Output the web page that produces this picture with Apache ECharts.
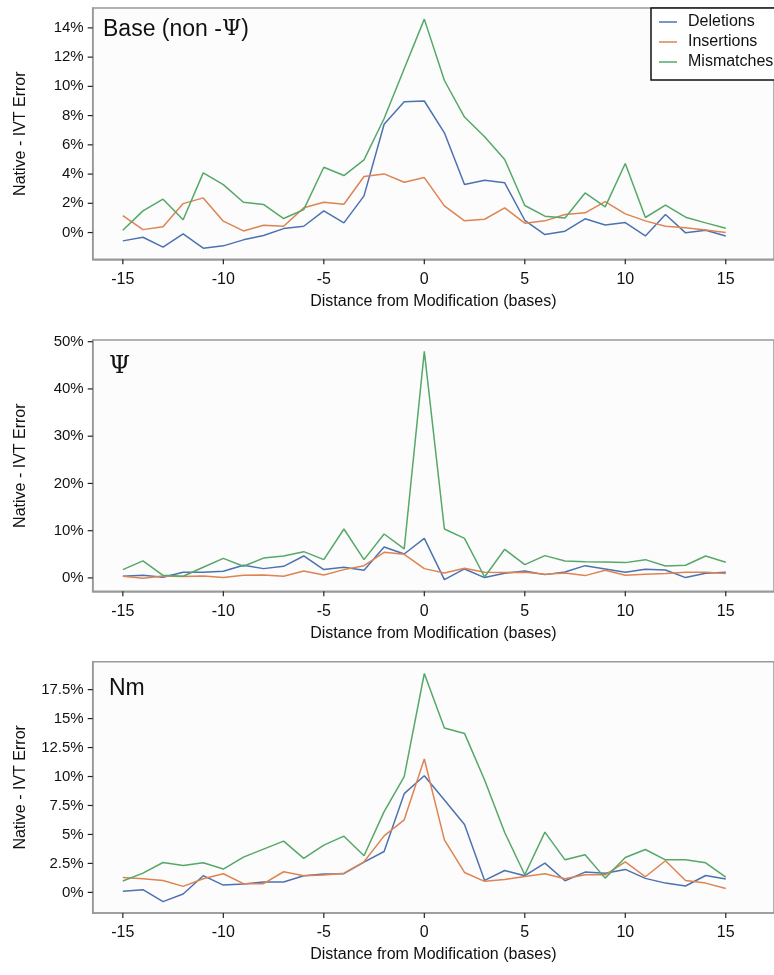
<!DOCTYPE html>
<html><head><meta charset="utf-8">
<script src="https://cdn.jsdelivr.net/npm/echarts@6/dist/echarts.min.js"></script>
<style>html,body{margin:0;padding:0;background:#fff}#c{width:774px;height:975px}</style>
</head><body><div id="c"></div>
<script>
const positions = [-15,-14,-13,-12,-11,-10,-9,-8,-7,-6,-5,-4,-3,-2,-1,0,1,2,3,4,5,6,7,8,9,10,11,12,13,14,15];
const xTicks = [-15,-10,-5,0,5,10,15];
const seriesNames = ['Deletions','Insertions','Mismatches'];

const baseDel = [-0.57,-0.32,-1.0,-0.09,-1.07,-0.91,-0.5,-0.2,0.27,0.43,1.48,0.66,2.51,7.41,8.94,9.0,6.82,3.28,3.58,3.4,0.84,-0.14,0.09,0.94,0.52,0.68,-0.23,1.23,-0.02,0.16,-0.23];
const baseIns = [1.16,0.2,0.39,1.98,2.37,0.78,0.11,0.5,0.43,1.69,2.07,1.94,3.83,4.01,3.44,3.76,1.82,0.8,0.91,1.69,0.64,0.8,1.23,1.35,2.12,1.28,0.8,0.43,0.32,0.18,0.0];
const baseMis = [0.16,1.48,2.28,0.87,4.08,3.28,2.07,1.92,0.96,1.57,4.47,3.9,4.97,7.8,11.2,14.6,10.4,7.9,6.55,5.0,1.85,1.12,1.0,2.71,1.76,4.72,1.03,1.87,1.05,0.66,0.3];

const psiDel = [0.35,0.56,0.14,1.2,1.2,1.41,2.68,1.97,2.46,4.65,1.76,2.25,1.62,6.55,5.07,8.38,-0.35,1.9,0.07,0.99,1.48,0.7,1.27,2.6,1.9,1.2,1.83,1.69,0.07,0.99,1.2];
const psiIns = [0.35,-0.07,0.42,0.28,0.42,0.07,0.56,0.63,0.35,1.48,0.63,1.76,2.6,5.42,5.0,1.97,1.06,2.04,1.2,1.13,1.2,0.77,1.06,0.49,1.62,0.56,0.77,0.92,1.2,1.2,0.92];
const psiMis = [1.76,3.6,0.56,0.35,2.25,4.15,2.46,4.2,4.65,5.56,3.87,10.35,3.87,9.3,6.13,47.96,10.35,8.38,0.2,6.06,2.82,4.72,3.6,3.45,3.38,3.24,3.87,2.54,2.68,4.65,3.31];

const nmDel = [0.09,0.23,-0.8,-0.14,1.44,0.63,0.72,0.89,0.89,1.44,1.58,1.61,2.61,3.53,8.52,10.07,7.98,5.86,1.03,1.89,1.44,2.53,1.0,1.75,1.66,1.98,1.21,0.8,0.55,1.46,1.15];
const nmIns = [1.29,1.18,1.03,0.52,1.18,1.61,0.75,0.75,1.78,1.44,1.49,1.66,2.64,4.88,6.26,11.51,4.53,1.72,0.95,1.12,1.38,1.61,1.18,1.52,1.52,2.64,1.35,2.73,1.03,0.8,0.34];
const nmMis = [0.98,1.66,2.58,2.32,2.55,2.01,3.04,3.73,4.42,2.93,4.08,4.85,3.16,6.97,9.99,18.89,14.18,13.72,9.7,5.17,1.52,5.2,2.81,3.24,1.23,3.01,3.7,2.81,2.81,2.55,1.32];

const yTicksBase = [0,2,4,6,8,10,12,14];
const yTicksPsi = [0,10,20,30,40,50];
const yTicksNm = [0,2.5,5,7.5,10,12.5,15,17.5];

const colors = ['#4C72B0','#DD8452','#55A868'];
const FONT = 'Liberation Sans';
const X_MIN = -16.5, X_MAX = 17.4;

const panels = [
  {top: 8, yMin: -1.83, yMax: 15.36, ticks: yTicksBase, data: [baseDel, baseIns, baseMis]},
  {top: 340, yMin: -2.83, yMax: 50.36, ticks: yTicksPsi, data: [psiDel, psiIns, psiMis]},
  {top: 661.7, yMin: -1.78, yMax: 19.91, ticks: yTicksNm, data: [nmDel, nmIns, nmMis]}
];

const TICK_LEN = 5;

const grid = [], xAxis = [], yAxis = [], series = [];
panels.forEach((p, i) => {
  grid.push({left: 92.7, right: -26, top: p.top, height: 251.3, show: true,
    backgroundColor: '#fcfcfc', borderColor: '#999', borderWidth: 1.5});
  xAxis.push({type: 'value', gridIndex: i, min: X_MIN, max: X_MAX,
    name: 'Distance from Modification (bases)', nameLocation: 'middle', nameGap: 34,
    nameTextStyle: {fontFamily: FONT, fontSize: 16, color: '#111'},
    axisLine: {show: true, onZero: false, lineStyle: {color: '#999', width: 1.5}},
    axisTick: {show: false},
    axisLabel: {customValues: xTicks, margin: 12, fontFamily: FONT, fontSize: 16, color: '#111'},
    splitLine: {show: false}});
  yAxis.push({type: 'value', gridIndex: i, min: p.yMin, max: p.yMax,
    name: 'Native - IVT Error', nameLocation: 'middle', nameGap: 64,
    nameTextStyle: {fontFamily: FONT, fontSize: 16, color: '#111'},
    axisLine: {show: true, onZero: false, lineStyle: {color: '#999', width: 1.5}},
    axisTick: {show: false},
    axisLabel: {customValues: p.ticks, margin: 9, fontFamily: FONT, fontSize: 15, color: '#111',
      formatter: v => v + '%'},
    splitLine: {show: false}});
  seriesNames.forEach((name, k) => {
    series.push({type: 'line', name: name, xAxisIndex: i, yAxisIndex: i,
      data: positions.map((x, j) => [x, p.data[k][j]]),
      symbol: 'none', lineStyle: {width: 1.5, color: colors[k]}, itemStyle: {color: colors[k]},
      animation: false, z: 2 + k});
  });
});

const chart = echarts.init(document.getElementById('c'), null, {renderer: 'canvas'});
chart.setOption({
  animation: false,
  grid, xAxis, yAxis, series,
  title: [
    {text: '{a|Base (non -}{p|Ψ}{a|)}', left: 103, top: 18, padding: 0,
      textStyle: {fontWeight: 'normal', rich: {a: {fontFamily: FONT, fontSize: 23, fontWeight: 'normal', color: '#111'}, p: {fontFamily: 'DejaVu Serif', fontSize: 22, fontWeight: 'normal', color: '#111'}}}},
    {text: 'Ψ', left: 109, top: 355, padding: 0,
      textStyle: {fontFamily: 'DejaVu Serif', fontSize: 24, fontWeight: 'normal', color: '#111'}},
    {text: 'Nm', left: 109, top: 677, padding: 0,
      textStyle: {fontFamily: FONT, fontSize: 23, fontWeight: 'normal', color: '#111'}}
  ],
  legend: {data: seriesNames, orient: 'vertical', left: 651, top: 8,
    padding: [6, 20, 10, 8], itemGap: 4, itemWidth: 18, itemHeight: 1.5, icon: 'rect',
    backgroundColor: '#fff', borderColor: '#111', borderWidth: 1.5, borderRadius: 0,
    textStyle: {fontFamily: FONT, fontSize: 16, color: '#111', padding: [0, 0, 0, 6]}}
});

// tick marks positioned through the axes' own scales (convertToPixel)
const tickEls = [];
panels.forEach((p, i) => {
  p.ticks.forEach(v => {
    const pt = chart.convertToPixel({gridIndex: i}, [X_MIN, v]);
    tickEls.push({type: 'line', silent: true, z: 100,
      shape: {x1: pt[0] - TICK_LEN, y1: pt[1], x2: pt[0], y2: pt[1]},
      style: {stroke: '#222', lineWidth: 1.2}});
  });
  xTicks.forEach(v => {
    const pt = chart.convertToPixel({gridIndex: i}, [v, p.yMin]);
    tickEls.push({type: 'line', silent: true, z: 100,
      shape: {x1: pt[0], y1: pt[1], x2: pt[0], y2: pt[1] + TICK_LEN},
      style: {stroke: '#222', lineWidth: 1.2}});
  });
});
chart.setOption({graphic: tickEls});
</script></body></html>
